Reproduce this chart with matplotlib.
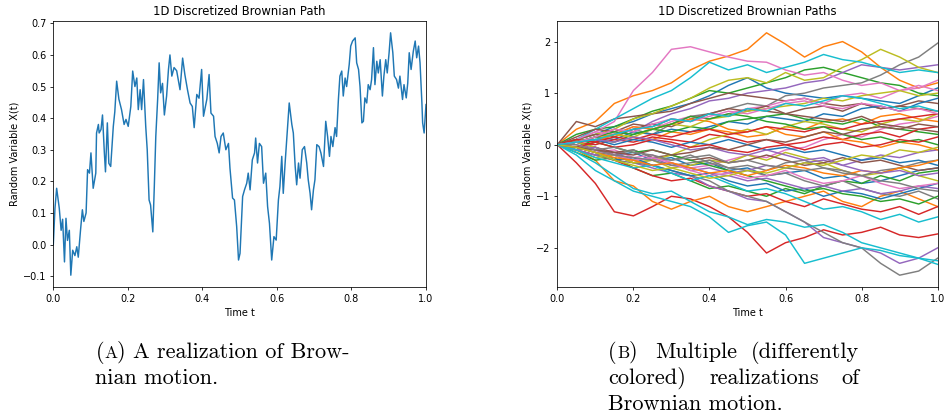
import matplotlib
matplotlib.use("Agg")
import matplotlib.pyplot as plt

# ---- panel A: single path ----
t_single = [0.000, 0.0045, 0.009, 0.016, 0.021, 0.025, 0.030, 0.034, 0.038, 0.043,
            0.047, 0.052, 0.058, 0.063, 0.067, 0.073, 0.078, 0.082, 0.088, 0.092,
            0.097, 0.101, 0.107, 0.114, 0.116, 0.121, 0.123, 0.128, 0.132, 0.137,
            0.140, 0.145, 0.149, 0.154, 0.161, 0.165, 0.170, 0.176, 0.183, 0.190,
            0.195, 0.201, 0.208, 0.213, 0.219, 0.224, 0.228, 0.233, 0.237, 0.242,
            0.248, 0.252, 0.257, 0.261, 0.267, 0.271, 0.275, 0.280, 0.284, 0.288,
            0.293, 0.298, 0.304, 0.309, 0.313, 0.318, 0.324, 0.331, 0.340, 0.347,
            0.353, 0.360, 0.367, 0.373, 0.378, 0.385, 0.391, 0.398,
            0.403, 0.412, 0.418, 0.423, 0.430, 0.434, 0.440, 0.445, 0.450, 0.456,
            0.463, 0.470, 0.474, 0.481, 0.486, 0.492, 0.497, 0.501, 0.508, 0.513,
            0.519, 0.523, 0.528, 0.534, 0.540, 0.543, 0.548, 0.553, 0.559, 0.564,
            0.570, 0.575, 0.580, 0.586, 0.592, 0.598, 0.604, 0.608, 0.613, 0.617,
            0.622, 0.628, 0.633, 0.640, 0.644, 0.649, 0.653, 0.658, 0.662, 0.668,
            0.674, 0.680, 0.684, 0.689, 0.693, 0.698, 0.702, 0.707, 0.713, 0.718,
            0.725, 0.731, 0.736, 0.741, 0.745, 0.750, 0.756, 0.760, 0.765, 0.769,
            0.774, 0.778, 0.783, 0.787, 0.794, 0.798, 0.803, 0.810, 0.814, 0.819,
            0.823, 0.828, 0.832, 0.836, 0.841, 0.845, 0.850, 0.854, 0.859, 0.863,
            0.868, 0.872, 0.877, 0.883, 0.887, 0.892, 0.896, 0.901, 0.905, 0.911,
            0.915, 0.921, 0.926, 0.930, 0.937, 0.941, 0.947, 0.951, 0.955, 0.960,
            0.966, 0.971, 0.975, 0.980, 0.984, 0.989, 0.991, 0.995, 1.000]
x_single = [0.0, 0.115, 0.178, 0.115, 0.045, 0.08, -0.055, 0.083, 0.013, 0.045,
            -0.097, -0.018, -0.035, -0.007, -0.04, 0.045, 0.11, 0.073, 0.1, 0.237,
            0.226, 0.29, 0.178, 0.226, 0.353, 0.38, 0.353, 0.364, 0.41, 0.29,
            0.23, 0.385, 0.257, 0.247, 0.374, 0.42, 0.517, 0.46, 0.427, 0.38,
            0.396, 0.374, 0.437, 0.549, 0.5, 0.527, 0.427, 0.49, 0.427, 0.522,
            0.374, 0.3, 0.141, 0.125, 0.04, 0.183, 0.342, 0.46, 0.575, 0.48,
            0.51, 0.41, 0.47, 0.554, 0.6, 0.533, 0.56, 0.55, 0.49, 0.59,
            0.538, 0.49, 0.448, 0.437, 0.37, 0.475, 0.463, 0.554,
            0.406, 0.46, 0.538, 0.416, 0.406, 0.342, 0.32, 0.29, 0.342, 0.353,
            0.3, 0.32, 0.242, 0.147, 0.141, 0.057, -0.049, -0.028, 0.152, 0.173,
            0.194, 0.226, 0.173, 0.268, 0.29, 0.337, 0.258, 0.32, 0.31, 0.194,
            0.226, 0.12, 0.067, -0.049, 0.025, 0.014, 0.141, 0.183, 0.279, 0.162,
            0.258, 0.364, 0.448, 0.38, 0.353, 0.247, 0.189, 0.258, 0.21, 0.3,
            0.31, 0.258, 0.205, 0.162, 0.11, 0.173, 0.205, 0.316, 0.31, 0.29,
            0.247, 0.39, 0.342, 0.279, 0.342, 0.31, 0.37, 0.342, 0.46, 0.533,
            0.549, 0.47, 0.527, 0.5, 0.57, 0.628, 0.644, 0.654, 0.575, 0.554,
            0.5, 0.385, 0.39, 0.464, 0.448, 0.506, 0.49, 0.522, 0.623, 0.506,
            0.58, 0.543, 0.585, 0.47, 0.533, 0.585, 0.543, 0.607, 0.67, 0.607,
            0.533, 0.522, 0.495, 0.533, 0.459, 0.506, 0.464, 0.511, 0.607, 0.554,
            0.612, 0.644, 0.591, 0.628, 0.575, 0.448, 0.385, 0.353, 0.443]

# ---- panel B: many paths, estimated every 0.05 in t ----
t_grid = [0.0, 0.05, 0.1, 0.15, 0.2, 0.25, 0.3, 0.35, 0.4, 0.45, 0.5,
          0.55, 0.6, 0.65, 0.7, 0.75, 0.8, 0.85, 0.9, 0.95, 1.0]
paths = [
    [0, 0.1, 0.2, 0.35, 0.45, 0.6, 0.7, 0.8, 0.95, 1.15, 1.3, 1.1, 1.0, 0.95, 0.9, 0.95, 0.9, 0.85, 0.8, 0.95, 1.1],
    [0, 0.3, 0.45, 0.8, 0.95, 1.05, 1.2, 1.45, 1.62, 1.72, 1.85, 2.17, 1.95, 1.7, 1.9, 2.0, 1.8, 1.5, 1.25, 1.1, 1.2],
    [0, 0.2, 0.3, 0.35, 0.5, 0.65, 0.75, 0.9, 1.05, 1.0, 1.1, 1.2, 1.3, 1.45, 1.5, 1.4, 1.3, 1.2, 1.15, 1.0, 0.95],
    [0, -0.35, -0.75, -1.3, -1.38, -1.2, -1.0, -1.05, -1.2, -1.4, -1.7, -2.1, -1.9, -1.8, -1.65, -1.75, -1.7, -1.6, -1.75, -1.8, -1.73],
    [0, 0.05, 0.15, 0.3, 0.25, 0.45, 0.6, 0.7, 0.85, 0.9, 1.0, 1.05, 1.1, 1.2, 1.25, 1.4, 1.55, 1.5, 1.45, 1.5, 1.55],
    [0, 0.45, 0.35, 0.5, 0.55, 0.6, 0.65, 0.8, 0.9, 1.0, 0.95, 0.9, 0.85, 0.9, 0.8, 0.75, 0.8, 0.7, 0.75, 0.7, 0.65],
    [0, 0.1, 0.25, 0.45, 1.05, 1.4, 1.85, 1.9, 1.8, 1.7, 1.62, 1.6, 1.45, 1.35, 1.4, 1.25, 1.15, 1.2, 1.05, 1.15, 1.05],
    [0, -0.1, 0.05, 0.2, 0.3, 0.2, 0.4, 0.55, 0.6, 0.7, 0.8, 0.75, 0.95, 1.0, 1.1, 1.15, 1.2, 1.35, 1.55, 1.7, 1.97],
    [0, 0.1, 0.2, 0.3, 0.5, 0.6, 0.75, 0.9, 1.1, 1.25, 1.3, 1.2, 1.4, 1.25, 1.3, 1.5, 1.65, 1.85, 1.7, 1.5, 1.4],
    [0, 0.1, 0.3, 0.5, 0.7, 0.9, 1.05, 1.3, 1.6, 1.45, 1.55, 1.4, 1.5, 1.6, 1.75, 1.65, 1.6, 1.5, 1.4, 1.45, 1.4],
    [0, -0.1, -0.05, -0.2, -0.15, -0.3, -0.25, -0.4, -0.35, -0.5, -0.45, -0.6, -0.55, -0.5, -0.65, -0.6, -0.75, -0.7, -0.6, -0.5, -0.45],
    [0, -0.1, -0.3, -0.7, -0.8, -1.1, -1.25, -1.1, -1.0, -1.2, -1.3, -1.2, -1.1, -1.0, -0.9, -1.1, -1.2, -1.0, -0.9, -1.05, -1.2],
    [0, -0.15, -0.3, -0.25, -0.45, -0.6, -0.55, -0.7, -0.85, -0.8, -0.9, -1.0, -0.85, -0.95, -0.8, -0.7, -0.75, -0.6, -0.7, -0.55, -0.5],
    [0, -0.1, -0.2, -0.3, -0.45, -0.6, -0.7, -0.65, -0.8, -0.9, -1.0, -0.95, -1.1, -1.2, -1.05, -1.15, -1.25, -1.3, -1.2, -1.35, -1.2],
    [0, 0.05, -0.1, -0.2, -0.35, -0.45, -0.55, -0.6, -0.8, -0.9, -1.05, -1.1, -1.3, -1.5, -1.8, -1.9, -2.0, -2.1, -2.3, -2.2, -2.0],
    [0, 0.1, 0.2, 0.15, 0.3, 0.4, 0.35, 0.5, 0.6, 0.55, 0.7, 0.65, 0.6, 0.7, 0.75, 0.65, 0.8, 0.7, 0.75, 0.85, 0.8],
    [0, -0.05, -0.15, -0.1, -0.25, -0.2, -0.35, -0.45, -0.4, -0.3, -0.2, -0.25, -0.1, -0.05, 0.1, 0.2, 0.15, 0.3, 0.4, 0.45, 0.55],
    [0, -0.1, -0.2, -0.3, -0.35, -0.4, -0.5, -0.6, -0.7, -0.9, -1.0, -1.1, -1.3, -1.5, -1.7, -1.9, -2.0, -2.3, -2.53, -2.45, -2.2],
    [0, -0.1, -0.25, -0.2, -0.35, -0.3, -0.45, -0.4, -0.3, -0.35, -0.2, -0.3, -0.15, -0.25, -0.35, -0.5, -0.6, -0.55, -0.45, -0.6, -0.7],
    [0, -0.2, -0.5, -0.7, -0.9, -1.0, -1.1, -1.2, -1.4, -1.7, -1.57, -1.5, -1.75, -2.3, -2.2, -2.1, -2.0, -2.05, -2.15, -2.2, -2.32],
    [0, 0.05, 0.15, 0.1, 0.25, 0.2, 0.3, 0.25, 0.35, 0.45, 0.4, 0.55, 0.5, 0.45, 0.6, 0.55, 0.7, 0.75, 0.65, 0.8, 0.9],
    [0, 0.1, 0.05, 0.2, 0.15, 0.1, 0.25, 0.2, 0.3, 0.25, 0.15, 0.2, 0.35, 0.3, 0.45, 0.5, 0.4, 0.55, 0.6, 0.5, 0.45],
    [0, -0.05, 0.1, 0.05, 0.2, 0.3, 0.25, 0.35, 0.3, 0.45, 0.5, 0.55, 0.6, 0.5, 0.45, 0.4, 0.5, 0.35, 0.3, 0.25, 0.2],
    [0, 0.05, 0.0, 0.1, 0.05, 0.15, 0.1, 0.05, 0.2, 0.15, 0.05, 0.1, 0.0, 0.05, 0.15, 0.1, 0.2, 0.25, 0.15, 0.3, 0.35],
    [0, -0.1, -0.2, -0.15, -0.3, -0.4, -0.35, -0.5, -0.45, -0.55, -0.5, -0.4, -0.45, -0.35, -0.3, -0.4, -0.3, -0.2, -0.25, -0.15, -0.1],
    [0, 0.05, -0.05, -0.15, -0.1, -0.25, -0.2, -0.3, -0.25, -0.35, -0.3, -0.2, -0.3, -0.4, -0.35, -0.25, -0.35, -0.3, -0.4, -0.5, -0.45],
    [0, 0.1, 0.25, 0.2, 0.35, 0.3, 0.45, 0.55, 0.5, 0.6, 0.7, 0.75, 0.85, 0.9, 0.8, 0.95, 1.0, 0.9, 1.05, 1.1, 1.25],
    [0, -0.05, -0.15, -0.2, -0.1, -0.25, -0.3, -0.2, -0.35, -0.45, -0.5, -0.6, -0.55, -0.7, -0.8, -0.7, -0.85, -0.95, -1.0, -0.9, -1.05],
    [0, 0.05, -0.05, -0.2, -0.35, -0.3, -0.2, -0.05, 0.1, 0.2, 0.3, 0.2, 0.35, 0.45, 0.4, 0.3, 0.25, 0.4, 0.5, 0.45, 0.6],
    [0, -0.15, -0.35, -0.6, -0.85, -0.95, -0.9, -1.1, -1.3, -1.4, -1.55, -1.45, -1.5, -1.6, -1.55, -1.7, -1.9, -2.0, -2.1, -2.2, -2.25],
    [0, -0.05, -0.15, -0.3, -0.25, -0.4, -0.5, -0.6, -0.55, -0.7, -0.8, -0.75, -0.9, -0.85, -1.0, -0.9, -0.95, -1.05, -0.95, -0.85, -0.75],
    [0, 0.05, 0.15, 0.2, 0.35, 0.3, 0.4, 0.5, 0.45, 0.3, 0.25, 0.35, 0.2, 0.15, 0.25, 0.1, 0.05, -0.05, 0.05, 0.0, -0.1],
    [0, 0.1, 0.05, -0.05, -0.15, -0.1, -0.2, -0.3, -0.4, -0.5, -0.6, -0.7, -0.8, -0.9, -0.85, -0.95, -1.0, -1.1, -1.05, -1.15, -1.0],
    [0, -0.05, 0.05, 0.15, 0.1, 0.2, 0.15, 0.25, 0.3, 0.2, 0.25, 0.35, 0.3, 0.25, 0.35, 0.3, 0.4, 0.45, 0.5, 0.55, 0.6],
    [0, -0.1, -0.05, -0.2, -0.3, -0.25, -0.4, -0.45, -0.55, -0.6, -0.7, -0.65, -0.75, -0.85, -0.8, -0.9, -0.85, -0.95, -0.9, -0.8, -0.85],
    [0, 0.15, 0.3, 0.25, 0.4, 0.35, 0.5, 0.45, 0.6, 0.7, 0.65, 0.75, 0.6, 0.55, 0.5, 0.45, 0.55, 0.4, 0.35, 0.3, 0.25],
    [0, 0.0, -0.1, -0.2, -0.3, -0.25, -0.35, -0.5, -0.6, -0.55, -0.65, -0.6, -0.5, -0.65, -0.75, -0.7, -0.6, -0.75, -0.85, -0.8, -0.75],
    [0, -0.05, -0.1, -0.2, -0.25, -0.3, -0.4, -0.35, -0.3, -0.45, -0.4, -0.5, -0.35, -0.3, -0.45, -0.5, -0.6, -0.5, -0.45, -0.35, -0.3],
    [0, 0.05, 0.1, 0.2, 0.15, 0.3, 0.4, 0.35, 0.5, 0.55, 0.65, 0.7, 0.75, 0.8, 0.9, 0.85, 0.95, 1.0, 1.05, 0.95, 1.0],
    [0, -0.1, -0.25, -0.35, -0.45, -0.4, -0.55, -0.7, -0.6, -0.75, -0.9, -0.85, -0.95, -1.1, -1.25, -1.2, -1.3, -1.45, -1.35, -1.5, -1.4],
    [0, 0.05, 0.1, 0.0, 0.1, 0.05, -0.05, 0.05, 0.0, 0.1, 0.0, -0.1, -0.05, -0.15, -0.1, -0.2, -0.3, -0.25, -0.35, -0.3, -0.4],
    [0, -0.05, -0.15, -0.25, -0.3, -0.4, -0.35, -0.45, -0.55, -0.5, -0.6, -0.5, -0.4, -0.45, -0.55, -0.6, -0.5, -0.55, -0.45, -0.4, -0.3],
    [0, 0.05, 0.15, 0.25, 0.2, 0.3, 0.4, 0.55, 0.5, 0.6, 0.55, 0.45, 0.4, 0.3, 0.35, 0.2, 0.1, 0.15, 0.05, 0.1, 0.0],
    [0, 0.1, 0.05, -0.05, 0.0, 0.1, 0.05, -0.05, 0.0, -0.1, -0.15, -0.05, 0.0, -0.1, 0.0, 0.05, -0.05, 0.0, 0.1, 0.05, 0.15],
    [0, 0.05, 0.1, 0.05, 0.15, 0.1, 0.0, -0.1, -0.05, -0.15, -0.2, -0.1, -0.2, -0.3, -0.25, -0.4, -0.5, -0.55, -0.5, -0.6, -0.55],
    [0, -0.05, -0.1, -0.15, -0.2, -0.1, -0.2, -0.15, -0.05, -0.1, 0.0, 0.1, 0.05, 0.15, 0.25, 0.2, 0.3, 0.35, 0.3, 0.4, 0.35],
    [0, 0.05, 0.15, 0.3, 0.25, 0.4, 0.5, 0.45, 0.55, 0.65, 0.6, 0.7, 0.8, 0.85, 0.75, 0.7, 0.8, 0.75, 0.65, 0.7, 0.6],
    [0, 0.0, -0.1, -0.05, -0.15, -0.2, -0.3, -0.25, -0.2, -0.35, -0.3, -0.4, -0.45, -0.5, -0.45, -0.55, -0.6, -0.7, -0.75, -0.85, -0.9],
    [0, -0.05, -0.15, -0.3, -0.4, -0.5, -0.45, -0.55, -0.65, -0.6, -0.5, -0.55, -0.45, -0.35, -0.4, -0.3, -0.2, -0.25, -0.1, -0.15, -0.05],
    [0, 0.05, 0.1, 0.2, 0.3, 0.35, 0.5, 0.45, 0.6, 0.55, 0.7, 0.65, 0.8, 0.75, 0.85, 0.95, 0.9, 0.8, 0.7, 0.75, 0.65],
]

# default mpl look, scaled down to ~70%
plt.rcParams.update({
    "font.size": 7, "axes.titlesize": 8.4, "axes.labelsize": 7,
    "xtick.labelsize": 7, "ytick.labelsize": 7,
    "lines.linewidth": 1.05, "axes.linewidth": 0.56,
    "xtick.major.size": 2.45, "ytick.major.size": 2.45,
    "xtick.major.width": 0.56, "ytick.major.width": 0.56,
    "xtick.major.pad": 2.45, "ytick.major.pad": 2.45,
    "axes.titlepad": 4.2, "axes.labelpad": 2.8,
})

W, H = 945, 415
fig = plt.figure(figsize=(W / 100, H / 100), dpi=100)

ax1 = fig.add_axes([53.3 / W, 1 - 287.3 / H, 372.7 / W, 266.6 / H])
ax1.plot(t_single, x_single, color="C0")
ax1.set_xlim(0, 1)
ax1.set_title("1D Discretized Brownian Path")
ax1.set_xlabel("Time t")
ax1.set_ylabel("Random Variable X(t)")

ax2 = fig.add_axes([557.3 / W, 1 - 287.3 / H, 380.4 / W, 266.6 / H])
for p in paths:
    ax2.plot(t_grid, p)
ax2.set_xlim(0, 1)
ax2.set_title("1D Discretized Brownian Paths")
ax2.set_xlabel("Time t")
ax2.set_ylabel("Random Variable X(t)")

# captions (serif, small-caps letter faked with a smaller A/B)
CAP = 16
rend = fig.canvas.get_renderer()


def put(x, y, s, size=CAP, ha="left"):
    t = fig.text(x / W, 1 - y / H, s, fontsize=size, family="cmr10",
                 ha=ha, va="baseline")
    return x + t.get_window_extent(rend).width


def label_run(x, y, letter):
    x = put(x, y, "(")
    x = put(x, y, letter, size=CAP * 0.78)
    return put(x, y, ")")


x = label_run(95.5, 358, "A")
put(x + 7, 358, "A realization of Brow-")
put(95.5, 383.5, "nian motion.")

label_run(608.3, 358, "B")
put(655, 358, "Multiple")
put(859.5, 358, "(differently", ha="right")
put(608.3, 383.5, "colored)")
put(709.3, 383.5, "realizations")
put(859.5, 383.5, "of", ha="right")
put(608.3, 409.5, "Brownian motion.")

fig.savefig("out.png", dpi=100)
